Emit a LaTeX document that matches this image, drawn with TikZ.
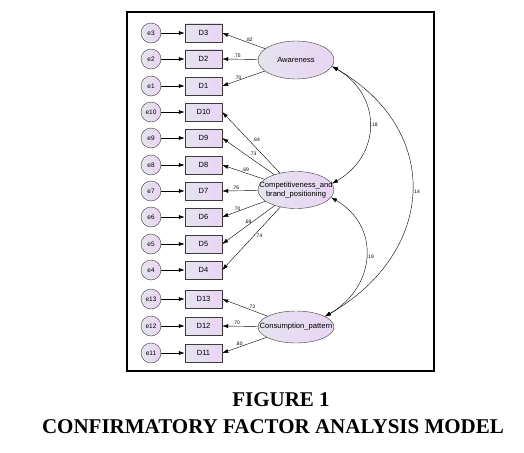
\documentclass[tikz,border=0pt]{standalone}
\usepackage{fontspec}
\setmainfont{Liberation Sans}
\newfontfamily\titlefont{Liberation Serif}
\usetikzlibrary{shapes.geometric,arrows.meta}
\definecolor{lavleft}{RGB}{228,228,238}
\definecolor{lavright}{RGB}{233,212,244}
\definecolor{rim}{RGB}{60,60,60}
\tikzset{
  >={Latex[length=6pt,width=4pt]},
  errvar/.style={circle, draw=rim, left color=lavleft, right color=lavright,
    minimum size=20pt, inner sep=0pt, font=\fontsize{6.5}{7}\selectfont},
  obsvar/.style={rectangle, draw=rim, left color=lavleft, right color=lavright,
    minimum width=37pt, minimum height=18pt, inner sep=0pt, font=\fontsize{7.5}{8}\selectfont},
  latvar/.style={ellipse, draw=rim, left color=lavleft, right color=lavright, inner sep=0pt},
  lattext/.style={inner sep=0pt, align=center, font=\fontsize{7.6}{8.8}\selectfont},
  lbl/.style={inner sep=1pt, font=\fontsize{5}{6}\selectfont},
  titletext/.style={inner sep=0pt, font=\titlefont\bfseries\fontsize{21}{24}\selectfont},
}
\begin{document}
\begin{tikzpicture}[x=1pt, y=1pt]
  \useasboundingbox (0,0) rectangle (524,-452);
  \draw[line width=2.4pt] (127,-12) rectangle (434,-371);
  % indicators and their errors
  \foreach \n/\y in {3/33, 2/59, 1/86, 10/112, 9/138, 8/165, 7/191, 6/217, 5/244, 4/270, 13/299, 12/326, 11/353}{
    \node[errvar] (e\n) at (151,-\y) {e\n};
    \node[obsvar] (D\n) at (203.5,-\y) {D\n};
    \draw[->, semithick] (e\n) -- (D\n);
  }
  % latent factors
  \node[latvar, minimum width=76pt, minimum height=38pt] (aw) at (296,-60) {};
  \node[lattext] (awtext) at (aw) {Awareness};
  \node[latvar, minimum width=76pt, minimum height=37pt] (cbp) at (296,-190) {};
  \node[lattext] (cbptext) at (cbp) {Competitiveness\_and\\brand\_positioning};
  \node[latvar, minimum width=76pt, minimum height=32pt] (cons) at (296,-327) {};
  \node[lattext] (constext) at (cons) {Consumption\_pattern};
  % loadings
  \draw[->] (aw) -- node[lbl, pos=0.37, anchor=south] {.82} (D3.east);
  \draw[->] (aw) -- node[lbl, pos=0.58, anchor=south] {.75} (D2.east);
  \draw[->] (aw) -- node[lbl, pos=0.63, anchor=south] {.70} (D1.east);
  \draw[->] (cbp) -- node[lbl, pos=0.49, anchor=south west] {.84} (D10.east);
  \draw[->] (cbp) -- node[lbl, pos=0.50, anchor=south west] {.73} (D9.east);
  \draw[->] (cbp) -- node[lbl, pos=0.45, anchor=south] {.69} (D8.east);
  \draw[->] (cbp) -- node[lbl, pos=0.62, anchor=south] {.76} (D7.east);
  \draw[->] (cbp) -- node[lbl, pos=0.66, anchor=south] {.70} (D6.east);
  \draw[->] (cbp) -- node[lbl, pos=0.42, anchor=east] {.69} (D5.east);
  \draw[->] (cbp) -- node[lbl, pos=0.45, anchor=west] {.74} (D4.east);
  \draw[->] (cons) -- node[lbl, pos=0.35, anchor=south] {.73} (D13.east);
  \draw[->] (cons) -- node[lbl, pos=0.60, anchor=south] {.70} (D12.east);
  \draw[->] (cons) -- node[lbl, pos=0.62, anchor=south] {.80} (D11.east);
  % covariances
  \draw[<->] (aw.-10) to[out=-30, in=30, looseness=1.26] node[lbl, anchor=west] {.18} (cbp.10);
  \draw[<->] (cbp.-12) to[out=-30, in=30, looseness=1.25] node[lbl, anchor=west] {.19} (cons.20);
  \draw[<->] (aw.-10) to[out=-30, in=30, looseness=1.31] node[lbl, anchor=west] {.14} (cons.20);
  % caption
  \node[titletext] (fig) at (281,-400) {FIGURE 1};
  \node[titletext] (cap) at (273,-427) {CONFIRMATORY FACTOR ANALYSIS MODEL};
\end{tikzpicture}
\end{document}
